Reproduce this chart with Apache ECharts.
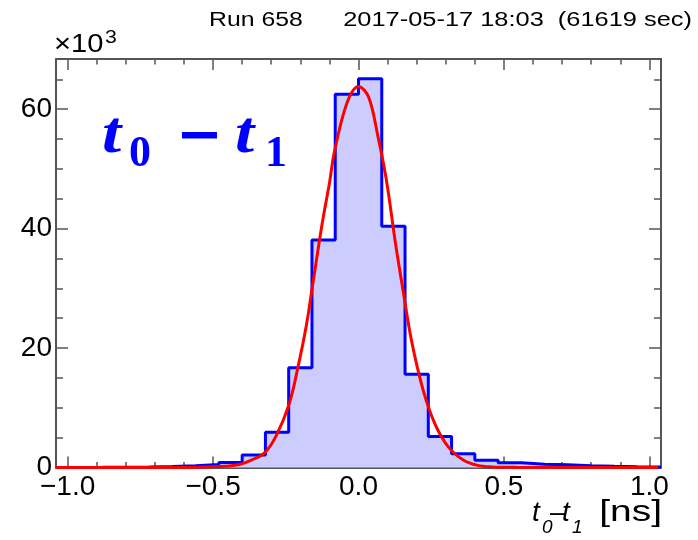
<!DOCTYPE html>
<html>
<head>
<meta charset="utf-8">
<script src="https://cdn.jsdelivr.net/npm/echarts@6/dist/echarts.min.js"></script>
<style>
  html, body { margin: 0; padding: 0; background: #fff; }
  #chart { width: 698px; height: 540px; }
</style>
</head>
<body>
<div id="chart"></div>
<script>
// Histogram of t0 - t1 (ns), 26 bins of 0.08 ns; counts in units of 10^3
const binCenters = [-1.00, -0.92, -0.84, -0.76, -0.68, -0.60, -0.52, -0.44, -0.36, -0.28, -0.20, -0.12, -0.04,
                     0.04,  0.12,  0.20,  0.28,  0.36,  0.44,  0.52,  0.60,  0.68,  0.76,  0.84,  0.92,  1.00];
const counts = [0.02, 0.03, 0.05, 0.10, 0.18, 0.30, 0.50, 0.85, 2.1, 5.9, 16.7, 38.1, 62.5,
                65.1, 40.4, 15.6, 5.2, 2.3, 1.2, 0.8, 0.55, 0.45, 0.30, 0.20, 0.12, 0.08];
const binWidth = 0.08;

// Gaussian fit curve, sampled points (x in ns, y in 10^3)
const fitX = [-1.04, -0.70, -0.55, -0.46, -0.41, -0.37, -0.324, -0.284, -0.238, -0.209, -0.180, -0.160, -0.140,
              -0.123, -0.100, -0.083, -0.040, 0.000, 0.035, 0.067, 0.096, 0.127, 0.153, 0.182, 0.222, 0.262,
               0.308, 0.360, 0.410, 0.460, 0.550, 0.700, 1.030];
const fitY = [0, 0, 0.05, 0.2, 0.5, 1.2, 2.4, 5.2, 10.7, 16.6, 23.6, 29.8, 36.2,
              41.4, 47.6, 52.8, 61.0, 63.8, 62.0, 55.4, 48.1, 37.6, 29.7, 21.3, 13.0, 7.4,
              3.5, 1.26, 0.35, 0.1, 0.02, 0, 0];

// Axis ticks and labels
const xRange = [-1.04, 1.04];
const yRange = [0, 68.4];
const xMajorTicks = [-1.0, -0.5, 0.0, 0.5, 1.0];
const xTickLabels = ['\u22121.0', '\u22120.5', '0.0', '0.5', '1.0'];
const xMinorTicks = [-1.0, -0.9, -0.8, -0.7, -0.6, -0.5, -0.4, -0.3, -0.2, -0.1, 0.0,
                      0.1, 0.2, 0.3, 0.4, 0.5, 0.6, 0.7, 0.8, 0.9, 1.0];
const yMajorTicks = [0, 20, 40, 60];
const yTickLabels = ['0', '20', '40', '60'];
const yMinorTicks = [5, 10, 15, 25, 30, 35, 45, 50, 55, 65];

const frameColor = '#555555';
const sansFont = '"Liberation Sans", Arial, sans-serif';
const serifFont = '"Liberation Serif", "DejaVu Serif", serif';

function lookup(ticks, labels, v) {
  const i = ticks.findIndex(t => Math.abs(t - v) < 1e-9);
  return i >= 0 ? labels[i] : '';
}

// Step outline through bin edges
const stepData = [[binCenters[0] - binWidth / 2, 0]];
binCenters.forEach((c, i) => stepData.push([c - binWidth / 2, counts[i]]));
stepData.push([binCenters[binCenters.length - 1] + binWidth / 2, counts[counts.length - 1]]);
stepData.push([binCenters[binCenters.length - 1] + binWidth / 2, 0]);

const fitData = fitX.map((x, i) => [x, fitY[i]]);

function xAxisDef(position, ticks, len, showLine, labels) {
  return {
    type: 'value', position: position, min: xRange[0], max: xRange[1],
    axisLine: { show: showLine, onZero: false, lineStyle: { color: frameColor, width: 2 } },
    axisTick: { show: true, inside: true, length: len, customValues: ticks,
                lineStyle: { color: frameColor, width: 1.5 } },
    axisLabel: labels ? {
      show: true, customValues: ticks, margin: 6, color: '#000',
      fontFamily: sansFont, fontSize: 28,
      formatter: v => lookup(xMajorTicks, xTickLabels, v)
    } : { show: false },
    splitLine: { show: false }
  };
}
function yAxisDef(position, ticks, len, showLine, labels) {
  return {
    type: 'value', position: position, min: yRange[0], max: yRange[1],
    axisLine: { show: showLine, onZero: false, lineStyle: { color: frameColor, width: 2 } },
    axisTick: { show: true, inside: true, length: len, customValues: ticks,
                lineStyle: { color: frameColor, width: 1.5 } },
    axisLabel: labels ? {
      show: true, customValues: ticks, margin: 4, color: '#000',
      fontFamily: sansFont, fontSize: 28,
      formatter: v => lookup(yMajorTicks, yTickLabels, v)
    } : { show: false },
    splitLine: { show: false }
  };
}

// text helper: places a string by its left/right x and baseline y
function txt(x, baseline, text, size, opts) {
  opts = opts || {};
  return {
    type: 'text', x: x, y: baseline - 0.34 * size, z: 100,
    scaleX: opts.scaleX || 1,
    style: {
      text: text, x: 0, y: 0,
      fill: opts.color || '#000',
      fontFamily: opts.family || sansFont,
      fontSize: size,
      fontStyle: opts.italic ? 'italic' : 'normal',
      fontWeight: opts.bold ? 'bold' : 'normal',
      textAlign: opts.align || 'left', align: opts.align || 'left',
      textVerticalAlign: 'middle', verticalAlign: 'middle'
    }
  };
}

const chart = echarts.init(document.getElementById('chart'), null, { renderer: 'canvas' });
chart.setOption({
  animation: false,
  backgroundColor: '#fff',
  grid: { left: 56, right: 37, top: 59, bottom: 72.5, containLabel: false },
  xAxis: [
    xAxisDef('bottom', xMajorTicks, 11, true, true),
    xAxisDef('bottom', xMinorTicks, 5.5, false, false),
    xAxisDef('top', xMajorTicks, 11, true, false),
    xAxisDef('top', xMinorTicks, 5.5, false, false)
  ],
  yAxis: [
    yAxisDef('left', yMajorTicks, 12, true, true),
    yAxisDef('left', yMinorTicks, 7, false, false),
    yAxisDef('right', yMajorTicks, 12, true, false),
    yAxisDef('right', yMinorTicks, 7, false, false)
  ],
  series: [
    {
      name: 'hist', type: 'line', step: 'end', data: stepData,
      xAxisIndex: 0, yAxisIndex: 0,
      symbol: 'none', z: 2,
      lineStyle: { color: '#0000ff', width: 3 },
      areaStyle: { color: '#ccccff', opacity: 1 }
    },
    {
      name: 'fit', type: 'line', data: fitData, smooth: 0.35,
      xAxisIndex: 0, yAxisIndex: 0,
      symbol: 'none', z: 3,
      lineStyle: { color: '#ff0000', width: 3 }
    }
  ],
  graphic: {
    elements: [
      // header
      txt(209, 27, 'Run 658', 20, { scaleX: 1.24 }),
      txt(692, 27, '2017-05-17 18:03  (61619 sec)', 20, { scaleX: 1.27, align: 'right' }),
      // axis multiplier
      txt(54, 54, '\u00d710', 26, { scaleX: 1.12 }),
      txt(105, 44, '3', 19, { scaleX: 1.12 }),
      // x-axis title
      txt(532, 523, 't', 28, { italic: true }),
      txt(542, 534, '0', 19, { italic: true }),
      txt(550, 523, '\u2013', 28, {}),
      txt(562, 523, 't', 28, { italic: true }),
      txt(572, 534, '1', 19, { italic: true }),
      txt(662, 523, '[ns]', 30, { align: 'right', scaleX: 1.3 }),
      // in-plot label t0 - t1
      txt(102, 157, 't', 60, { italic: true, bold: true, color: '#0000ff', family: serifFont, scaleX: 1.15 }),
      txt(129, 170, '0', 44, { bold: true, color: '#0000ff', family: serifFont }),
      txt(176, 157, '\u2212', 56, { bold: true, color: '#0000ff', family: '"DejaVu Sans", sans-serif' }),
      txt(235, 157, 't', 60, { italic: true, bold: true, color: '#0000ff', family: serifFont, scaleX: 1.15 }),
      txt(265, 170, '1', 44, { bold: true, color: '#0000ff', family: serifFont })
    ]
  }
});
</script>
</body>
</html>
